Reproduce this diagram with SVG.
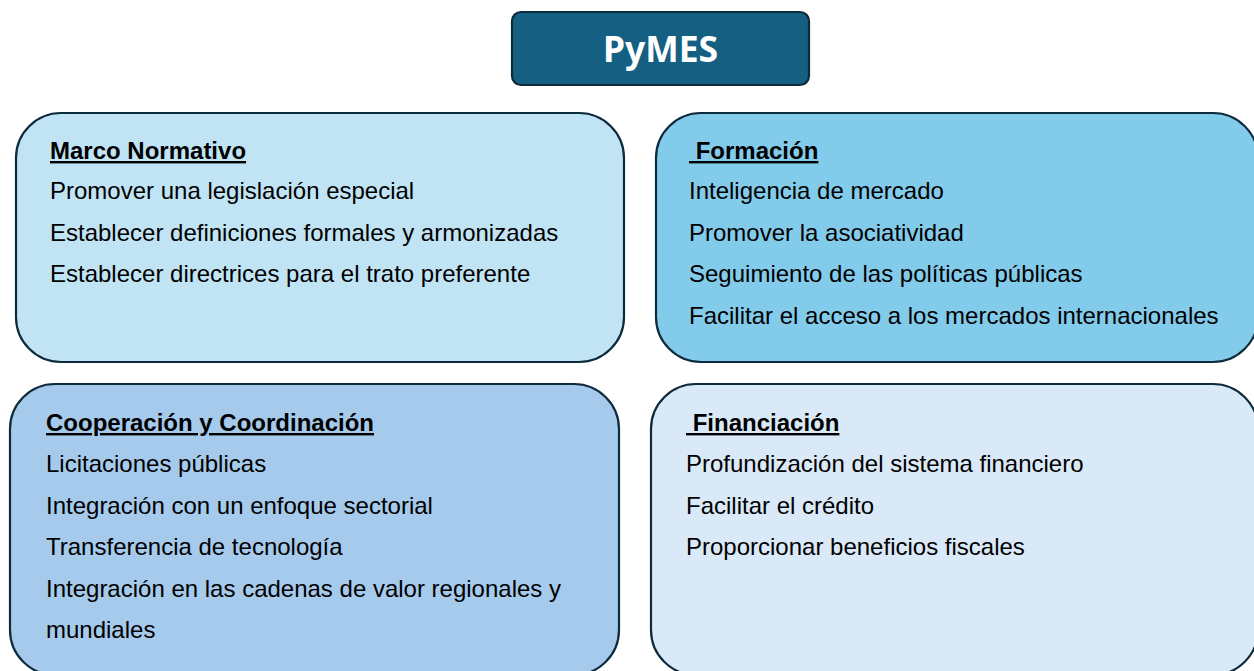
<svg xmlns="http://www.w3.org/2000/svg" width="1254" height="671" viewBox="0 0 1254 671">
<style>
.box{stroke:#0e2b3d;stroke-width:2.2}
.t{font-family:"Liberation Sans",Arial,sans-serif;font-size:24px;fill:#000}
.h{font-weight:bold;text-decoration:underline}
.title{font-family:"Noto Sans","Open Sans",sans-serif;font-weight:bold;font-size:35.5px;fill:#fff}
</style>
<rect width="1254" height="671" fill="#fff"/>
<g id="pymes">
<rect x="512" y="12" width="297" height="73" rx="9" fill="#156082" class="box"/>
<text x="660.5" y="62" text-anchor="middle" class="title">PyMES</text>
</g>
<g id="marco">
<rect x="16" y="113" width="608" height="249" rx="45" fill="#c1e4f5" class="box"/>
<text class="t h" x="50" y="159">Marco Normativo</text>
<text class="t" x="50" y="199">Promover una legislación especial</text>
<text class="t" x="50" y="241">Establecer definiciones formales y armonizadas</text>
<text class="t" x="50" y="282">Establecer directrices para el trato preferente</text>
</g>
<g id="formacion">
<rect x="656" y="113" width="602" height="249" rx="45" fill="#83cbeb" class="box"/>
<text class="t h" x="689" y="159" xml:space="preserve"> Formación</text>
<text class="t" x="689" y="199">Inteligencia de mercado</text>
<text class="t" x="689" y="241">Promover la asociatividad</text>
<text class="t" x="689" y="282">Seguimiento de las políticas públicas</text>
<text class="t" x="689" y="324">Facilitar el acceso a los mercados internacionales</text>
</g>
<g id="cooperacion">
<rect x="10" y="384" width="609" height="291" rx="45" fill="#a6caec" class="box"/>
<text class="t h" x="46" y="431">Cooperación y Coordinación</text>
<text class="t" x="46" y="472">Licitaciones públicas</text>
<text class="t" x="46" y="514">Integración con un enfoque sectorial</text>
<text class="t" x="46" y="555">Transferencia de tecnología</text>
<text class="t" x="46" y="597">Integración en las cadenas de valor regionales y</text>
<text class="t" x="46" y="638">mundiales</text>
</g>
<g id="financiacion">
<rect x="651" y="384" width="607" height="291" rx="45" fill="#dae9f7" class="box"/>
<text class="t h" x="686" y="431" xml:space="preserve"> Financiación</text>
<text class="t" x="686" y="472">Profundización del sistema financiero</text>
<text class="t" x="686" y="514">Facilitar el crédito</text>
<text class="t" x="686" y="555">Proporcionar beneficios fiscales</text>
</g>
<g id="connectors"></g>
</svg>
